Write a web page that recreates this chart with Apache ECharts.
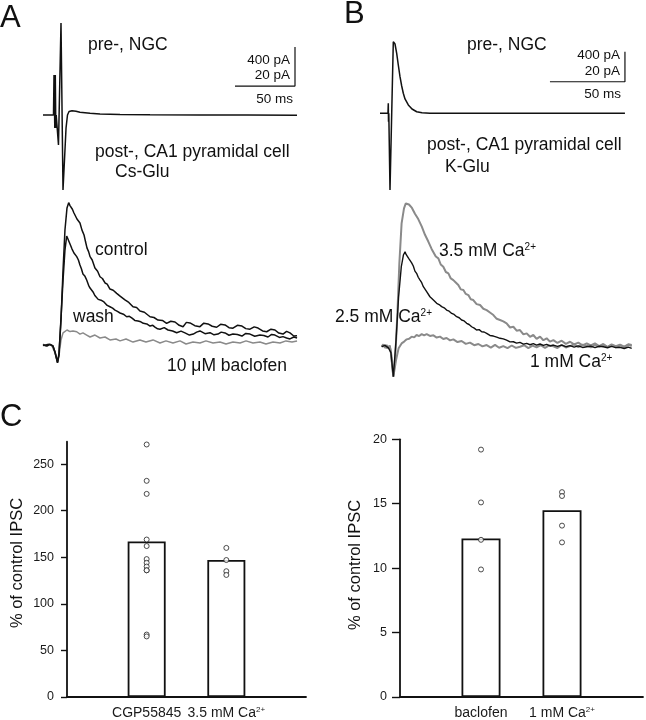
<!DOCTYPE html>
<html><head><meta charset="utf-8">
<script src="https://cdn.jsdelivr.net/npm/echarts@6/dist/echarts.min.js"></script>
<style>html,body{margin:0;padding:0;background:#fff}#c{width:646px;height:720px}</style>
</head><body><div id="c"></div>
<script>
// ---------------- DATA ----------------
// Panel A, presynaptic NGC trace: [time ms, current pA]
const aPre = [[0,0],[8.75,0],[9.17,410],[9.83,-133],[10.25,410],[10.67,-133],[11,0],[12.5,0],[12.9,-308],[15,944],[16.67,-769],[17.9,-462],[19.2,-133],[20.4,0],[21.7,36],[24.2,44],[27.5,38],[30.8,28],[39.2,17],[47.5,10],[64.2,5],[89.2,2],[130.8,0],[170,-1],[211.7,-3]];
// Panel A, postsynaptic IPSCs: [time ms, current pA]
const aControl = [[0,-0.3],[1.5,0.6],[3.3,0.2],[4.5,-0.4],[5.8,0.3],[7,-0.2],[8.3,-0.5],[10,-3.6],[12.1,-9.1],[13.3,-5.1],[15,12.8],[16.7,38.5],[18.3,59],[20,70.3],[21.4,73],[22.5,71.5],[23.3,70.8],[24.5,69.6],[25.8,67.7],[27,66.8],[28.3,64.6],[29.5,64.1],[30.8,62.6],[32.5,58.9],[34.2,56.4],[35.5,52.8],[36.7,49.7],[38,47.9],[39.2,45.3],[41,43.6],[43.3,39.5],[45.5,37.8],[47.5,35],[49.5,34.1],[51.7,31.8],[53.5,31.2],[55.8,28.7],[58.5,28.1],[61.4,26.5],[64.5,24.9],[68.3,23.1],[71.5,21.8],[75,19.6],[78,19.2],[80.8,17.4],[84.5,16.8],[89.2,14.5],[92.5,14.1],[95.8,12.8],[99.5,12.6],[103,11.1],[106.5,12.2],[110,11.8],[113.5,10.1],[116.7,9.4],[119.5,11.6],[122.5,11.3],[126.5,9.9],[130.8,9.4],[134,11.2],[137.5,10.8],[141,9.6],[144.7,9.1],[148,10.6],[151.7,10.3],[155,8.9],[158.3,8.6],[162,10.1],[165.8,9.7],[169,8.4],[172.5,8.1],[176,9.3],[179.2,8.7],[183,7.2],[186.4,6.8],[190,8.1],[193.3,7.7],[196.5,6.1],[200,5.6],[203,7],[205.8,6.2],[209,4.6],[211.7,4.8]];
const aWash = [[0,0],[1.6,0.5],[3.3,-0.5],[4.6,0.4],[5.8,0.3],[7,-0.4],[8.3,-0.5],[10,-3.6],[12.1,-8.7],[13.3,-4.6],[15,13.8],[16.7,33.3],[18.3,48.7],[19.75,55.9],[20.8,54.9],[22.5,51.8],[24.2,49.2],[25.8,47.2],[28.1,45.3],[29.5,43.6],[30.8,41],[32,39.1],[33.3,36.4],[35,35.2],[36.4,33.3],[38,30.6],[39.2,29.2],[40.5,28.4],[41.7,27.2],[43.2,25.4],[44.75,24.8],[46,23.4],[47.5,23.1],[49,22.8],[50.8,22.1],[53.5,20.3],[55.8,19.6],[58,18.9],[60,17.9],[62,17.2],[64.2,16.4],[67,15.8],[69.75,14.5],[72,14.7],[74.2,13.8],[76.5,12.6],[79.2,12.3],[81.5,11.9],[83.6,11.1],[86.5,10.8],[89.2,9.7],[91.5,10.1],[93.3,9.2],[95.5,8.3],[97.5,8.1],[101,8.9],[104.2,7.7],[108,7.2],[111.4,6.3],[115,7.1],[118.3,6.2],[122,5.1],[125.25,5.6],[128,6.6],[130.8,7.2],[135,5.8],[139.2,6.3],[142.5,5.2],[145.8,5.6],[148.5,6.6],[151.7,6.2],[155,5],[158.3,5.6],[162,5.4],[165.8,4.6],[169,5.9],[172.5,5.6],[176.5,4.5],[180.8,5.1],[184,4.9],[187.5,4.1],[190.5,5.4],[193.3,5.1],[197,3.9],[200,4.3],[203,3.6],[205.8,3.1],[209,4.1],[211.7,3.6]];
const aBaclofen = [[0,0.5],[2.5,-0.5],[5,0.5],[7.5,-0.5],[10,-4.1],[12.1,-9.2],[13.3,-5.6],[15,2.6],[16.7,6.2],[18.3,7.2],[20,7.7],[22.5,6.9],[25,7.2],[28.1,6.8],[30.8,5.6],[33.3,6.2],[36.4,5.1],[39.2,4.1],[43.3,5.1],[47.5,3.6],[51.7,4.1],[55.8,2.6],[60.8,3.1],[64.2,2.1],[69.2,3.1],[75,1.5],[80.8,2.6],[85.8,1.5],[91.7,2.6],[97.5,1],[102.5,2.1],[108.3,1],[114.2,2.1],[119.2,0.5],[125,1.5],[130.8,1],[135.8,2.1],[141.7,1],[147.5,1.5],[152.5,0.5],[158.3,1.5],[164.2,1],[169.2,2.1],[175,1],[180.8,1.5],[185.8,0.5],[191.7,1.5],[197.5,1],[202.5,2.1],[207.5,1.5],[211.7,2.1]];
// Panel B, presynaptic NGC trace: [time ms, current pA]
const bPre = [[0,0],[5.3,0],[5.53,133],[5.67,-112],[5.87,0],[6.67,-1023],[8.87,955],[10,924],[11.13,800],[12.2,644],[13.33,488],[14.47,364],[15.53,267],[16.67,191],[18.87,111],[21.33,57],[24.47,21],[28,7],[33.3,0],[163.3,0]];
// Panel B, postsynaptic IPSCs: [time ms, current pA]
const b35Ca = [[1.1,0],[2.2,1.5],[3.3,-0.8],[4.4,1.2],[5.6,-1.1],[6.5,0.9],[7.3,-4.4],[8.9,-20],[10.2,-6.7],[11.6,22.2],[12.9,55.6],[14.4,82.2],[16,92.2],[17.2,95.5],[18.2,96.7],[19.3,94.8],[20.4,94.4],[21.3,92.5],[22.2,92.2],[23.3,88.6],[24.4,88.9],[25.5,85.1],[26.7,84.4],[27.8,80.2],[28.9,78.9],[30,74.6],[31.1,73.3],[32.2,70.1],[33.3,68.9],[34.4,65.2],[35.6,64.4],[37.2,60.1],[38.9,58.9],[40.5,54.8],[42.2,53.3],[43.9,49.8],[45.6,48.9],[47.2,45.5],[48.9,44.4],[50.5,42.8],[52.2,41.1],[53.9,38.2],[55.6,37.8],[57.2,35.2],[58.9,34.4],[60.5,31.6],[62.2,31.1],[64.4,28.4],[66.7,27.8],[68.9,25.3],[71.1,24.4],[73.3,22.8],[75.6,21.1],[77.8,18.6],[80,17.8],[82.2,16.9],[84.4,15.6],[86.7,12.8],[88.9,13.3],[91.1,10.7],[93.3,11.1],[95.6,8.2],[97.8,8.9],[100,6.6],[102.2,7.8],[104.4,5.2],[106.7,6.7],[108.9,4.3],[111.1,5.6],[113.3,3.4],[115.6,4.4],[118.3,2.5],[121.1,4],[123.9,1.9],[126.7,3.3],[129.4,1.5],[132.2,2.7],[135,0.9],[137.8,2.2],[140.5,0.8],[143.3,2.2],[146.1,0.4],[148.9,1.8],[151.7,-0.2],[154.4,1.3],[157.2,-0.4],[160,1.1],[162.8,-0.6],[165.6,1.4],[167.8,0.5]];
const b25Ca = [[1.1,0],[3.3,0.9],[5.6,-0.8],[7.3,-4],[8.9,-20],[10.7,4.4],[12.4,33.3],[14.2,53.3],[15.6,61.1],[16.7,63.3],[17.4,61.5],[18.2,61.8],[19.1,58.9],[20,57.8],[21.1,55.9],[22.2,53.8],[23.3,50.4],[24.4,48.9],[25.5,46.3],[26.7,44.4],[27.8,42.7],[28.9,40],[30,38.9],[31.1,36.7],[32.2,35.8],[33.3,33.3],[34.4,33],[35.6,31.1],[36.7,30.3],[37.8,28.9],[39.4,28.1],[41.1,26.7],[42.8,25.9],[44.4,24.4],[46.1,23.7],[47.8,22.2],[49.4,21.5],[51.1,20],[52.8,19.3],[54.4,17.8],[56.1,17.2],[57.8,15.6],[59.4,14.8],[61.1,13.3],[62.8,12.4],[64.4,11.1],[66.1,11.4],[67.8,10],[69.4,9.8],[71.1,8.9],[73.3,7.5],[75.6,7.1],[77.8,6.4],[80,5.6],[82.2,5.2],[84.4,4.4],[86.7,3.2],[88.9,3.3],[91.1,2.4],[93.3,2.9],[95.6,1.7],[97.8,2.2],[100,1.3],[102.2,2],[104.4,1],[106.7,1.8],[108.9,0.9],[111.1,1.6],[113.3,0.5],[115.6,1.1],[118.3,0.2],[121.1,1],[123.9,0],[126.7,0.7],[129.4,-0.3],[132.2,0.6],[135,-0.5],[137.8,0],[140.5,0.4],[143.3,-0.6],[146.1,0.3],[148.9,0],[151.7,-0.7],[154.4,0.2],[157.2,-0.6],[160,-0.4],[162.8,-1.2],[165.6,-0.3],[167.8,-1.1]];
const b1Ca = [[1.1,0],[2.2,-1.2],[3.3,1.1],[4.4,-0.9],[5.6,-1.1],[6.5,0.4],[7.3,-3.3],[8.9,-20],[10.7,-8.9],[12.4,-1.1],[14.4,2.2],[16.1,3.4],[17.8,4.9],[19.4,5.3],[21.1,6.7],[22.8,6.2],[24.4,7.8],[26.1,7.1],[27.8,8.4],[29.4,7.6],[31.1,8.4],[33.3,7.2],[35.6,7.6],[37.8,6.1],[40,6.7],[42.2,5.1],[44.4,5.8],[46.7,4.2],[48.9,4.9],[51.7,3.1],[54.4,3.8],[57.2,1.9],[60,2.7],[62.8,1],[65.6,1.8],[68.3,0.2],[71.1,1.1],[73.9,-0.6],[76.7,1.2],[79.4,-0.7],[82.2,0.4],[85,-0.9],[87.8,0.8],[90.6,-0.8],[93.3,0],[96.1,1],[98.9,-0.9],[101.7,0.7],[104.4,-0.4],[107.2,1],[110,-0.8],[112.8,0.9],[115.6,0.2],[118.3,-0.9],[121.1,1.2],[123.9,-0.5],[126.7,0.4],[129.4,1.6],[132.2,-0.3],[135,1.4],[137.8,0.7],[140.5,-0.5],[143.3,1.3],[146.1,0.1],[148.9,1.2],[151.7,-0.3],[154.4,1.5],[157.2,0.4],[160,1.3],[162.8,0],[165.6,1.6],[167.8,1.1]];
// Scale bars (ms, pA)
const scaleMs = 50, scalePrePA = 400;
// Panel C
const cCatsLeft = ['', 'CGP55845', '3.5 mM Ca2+', ''];
const cMeansLeft = [null, 167, 147, null];
const cgpPoints = [271, 232, 218, 169, 162, 148, 144, 140, 136, 136, 67, 65];
const ca35Points = [160, 147, 135, 131];
const cTicksLeft = [0, 50, 100, 150, 200, 250];
const cCatsRight = ['', 'baclofen', '1 mM Ca2+', ''];
const cMeansRight = [null, 12.3, 14.5, null];
const baclofenPoints = [19.2, 15.1, 12.2, 9.9];
const ca1Points = [15.9, 15.6, 13.3, 12.0];
const cTicksRight = [0, 5, 10, 15, 20];

// ---------------- CHART ----------------
const FONT = "'Liberation Sans', Arial, Helvetica, sans-serif";
const BLK = '#111', GRAY = '#8a8a8a';
const chart = echarts.init(document.getElementById('c'));

function hidden(gi, min, max) { return { gridIndex: gi, type: 'value', min, max, show: false }; }
function trace(xi, data, color, w, z) {
  return { type: 'line', xAxisIndex: xi, yAxisIndex: xi, data, symbol: 'none', clip: false,
    lineStyle: { color, width: w }, z: z || 2, animation: false, silent: true };
}
function scaleBar(xi, tEnd, pA0) {
  return trace(xi, [[tEnd, pA0 + scalePrePA], [tEnd, pA0], [tEnd - scaleMs, pA0]], BLK, 1.2, 3);
}
function supFmt(v) { return v.replace('Ca2+', 'Ca{s|2+}'); }
function txt(x, y, text, size, align, extra) {
  return Object.assign({ type: 'text', x, y, silent: true, style: {
    text, fontSize: size, fontFamily: FONT, fill: BLK, align: align || 'left', verticalAlign: 'middle',
    rich: { s: { fontSize: Math.round(size * 0.58), fontFamily: FONT, fill: BLK, verticalAlign: 'top' } } } }, extra || {});
}

const grids = [
  { left: 43, top: 17.5, width: 264, height: 195 },   // 0 A pre
  { left: 43, top: 189, width: 264, height: 195 },    // 1 A post
  { left: 380, top: 23.3, width: 255, height: 180 },  // 2 B pre
  { left: 380, top: 181.7, width: 255, height: 210 }, // 3 B post
  { left: 67, top: 441.7, right: 340, bottom: 21 },   // 4 C left
  { left: 400, top: 439.3, right: 0, bottom: 21 }     // 5 C right
];
const catAxis = (gi, cats) => ({ gridIndex: gi, type: 'category', data: cats, boundaryGap: false,
  axisLine: { lineStyle: { color: BLK, width: 1.8 } }, axisTick: { show: false },
  axisLabel: { interval: 0, fontSize: 14, fontFamily: FONT, color: '#1a1a1a', margin: 9, formatter: supFmt,
    rich: { s: { fontSize: 8, fontFamily: FONT, color: '#1a1a1a', verticalAlign: 'top' } } } });
const valAxis = (gi, max, ticks, tickLen) => ({ gridIndex: gi, type: 'value', min: 0, max,
  axisLine: { show: true, lineStyle: { color: BLK, width: 1.8 } },
  axisTick: { show: true, length: tickLen, customValues: ticks, lineStyle: { color: BLK, width: 1.4 } },
  axisLabel: { customValues: ticks, fontSize: 12.5, fontFamily: FONT, color: '#1a1a1a', margin: 13 },
  splitLine: { show: false } });

const option = {
  animation: false,
  backgroundColor: '#fff',
  grid: grids,
  xAxis: [hidden(0, 0, 220), hidden(1, 0, 220), hidden(2, 0, 170), hidden(3, 0, 170),
    catAxis(4, cCatsLeft), catAxis(5, cCatsRight)],
  yAxis: [hidden(0, -1000, 1000), hidden(1, -20, 80), hidden(2, -1200, 1200), hidden(3, -30, 110),
    valAxis(4, 274, cTicksLeft, 6), valAxis(5, 20, cTicksRight, 8)],
  series: [
    trace(0, aPre, BLK, 1.5),
    scaleBar(0, 210, 297),
    trace(1, aBaclofen, GRAY, 1.5),
    trace(1, aWash, BLK, 1.5),
    trace(1, aControl, BLK, 1.5),
    trace(2, bPre, BLK, 1.5),
    scaleBar(2, 163.3, 421),
    trace(3, b1Ca, GRAY, 2),
    trace(3, b35Ca, GRAY, 2),
    trace(3, b25Ca, BLK, 1.4),
    { type: 'bar', xAxisIndex: 4, yAxisIndex: 4, data: cMeansLeft, barWidth: 38, z: 2,
      itemStyle: { color: '#fff', borderColor: BLK, borderWidth: 1.8 } },
    { type: 'scatter', xAxisIndex: 4, yAxisIndex: 4, symbolSize: 5, z: 3,
      data: cgpPoints.map(v => [cCatsLeft[1], v]).concat(ca35Points.map(v => [cCatsLeft[2], v])),
      itemStyle: { color: '#fff', borderColor: '#222', borderWidth: 1 } },
    { type: 'bar', xAxisIndex: 5, yAxisIndex: 5, data: cMeansRight, barWidth: 39, z: 2,
      itemStyle: { color: '#fff', borderColor: BLK, borderWidth: 1.8 } },
    { type: 'scatter', xAxisIndex: 5, yAxisIndex: 5, symbolSize: 5, z: 3,
      data: baclofenPoints.map(v => [cCatsRight[1], v]).concat(ca1Points.map(v => [cCatsRight[2], v])),
      itemStyle: { color: '#fff', borderColor: '#222', borderWidth: 1 } }
  ],
  graphic: [
    txt(0, 18, 'A', 31), txt(344, 14, 'B', 31), txt(0, 417, 'C', 31),
    txt(88, 45, 'pre-, NGC', 17.5),
    txt(290, 60, '400 pA', 13.5, 'right'), txt(290, 75, '20 pA', 13.5, 'right'), txt(293, 99, '50 ms', 13.5, 'right'),
    txt(95, 152, 'post-, CA1 pyramidal cell', 17.5), txt(115, 172, 'Cs-Glu', 17.5),
    txt(95, 250, 'control', 17.5), txt(73, 317, 'wash', 17.5), txt(167, 366, '10 μM baclofen', 17.5),
    txt(467, 45, 'pre-, NGC', 17.5),
    txt(620, 55, '400 pA', 13.5, 'right'), txt(620, 71, '20 pA', 13.5, 'right'), txt(621, 94, '50 ms', 13.5, 'right'),
    txt(427, 145, 'post-, CA1 pyramidal cell', 17.5), txt(445, 167, 'K-Glu', 17.5),
    txt(439, 251, '3.5 mM Ca{s|2+}', 17.5), txt(335, 317, '2.5 mM Ca{s|2+}', 17.5), txt(530, 362, '1 mM Ca{s|2+}', 17.5),
    txt(17, 563, '% of control IPSC', 16.5, 'center', { rotation: Math.PI / 2 }),
    txt(355, 565, '% of control IPSC', 16.5, 'center', { rotation: Math.PI / 2 })
  ]
};
chart.setOption(option);
</script></body></html>
